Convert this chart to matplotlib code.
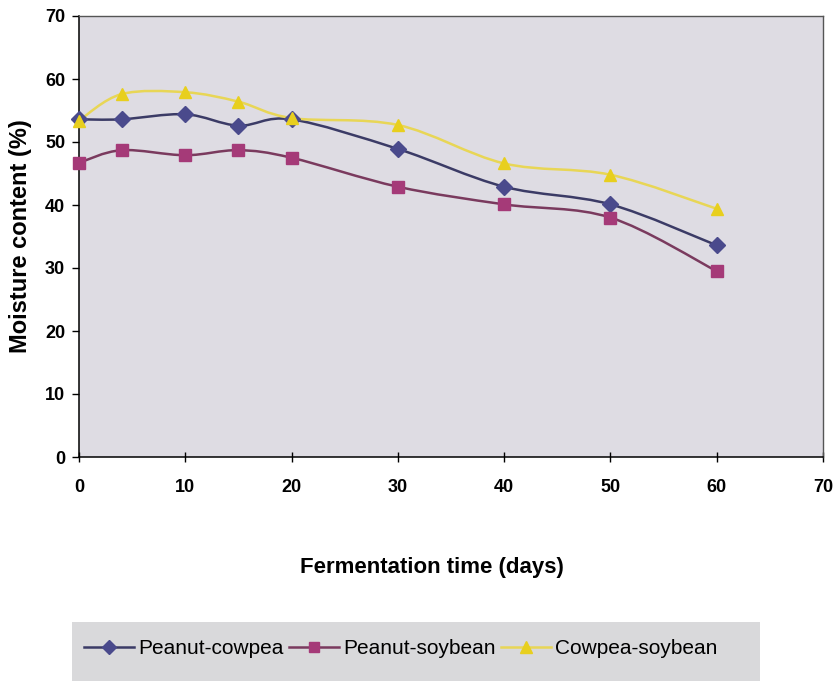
import numpy as np
import matplotlib
matplotlib.use("Agg")
import matplotlib.pyplot as plt
from matplotlib.path import Path
from matplotlib.patches import PathPatch, Rectangle
from matplotlib.lines import Line2D

plt.rcParams["font.family"] = ["Liberation Sans", "DejaVu Sans"]

days = [0, 4, 10, 15, 20, 30, 40, 50, 60]
peanut_cowpea = [53.6, 53.6, 54.4, 52.6, 53.6, 48.9, 42.9, 40.1, 33.6]
peanut_soybean = [46.7, 48.7, 47.9, 48.7, 47.5, 42.9, 40.1, 38.0, 29.5]
cowpea_soybean = [53.4, 57.6, 57.9, 56.4, 53.8, 52.7, 46.6, 44.8, 39.4]

x_ticks = [0, 10, 20, 30, 40, 50, 60, 70]
y_ticks = [0, 10, 20, 30, 40, 50, 60, 70]

series = [
    ("Peanut-cowpea", peanut_cowpea, "#3b3b66", "#4a4a8c", "D", 8),
    ("Peanut-soybean", peanut_soybean, "#7a3a5e", "#a53a78", "s", 8.5),
    ("Cowpea-soybean", cowpea_soybean, "#e8d656", "#e8cf1e", "^", 9),
]


def smooth_path(xs, ys):
    # cubic bezier through every point, catmull-rom style tangents
    pts = np.column_stack([xs, ys]).astype(float)
    verts = [pts[0]]
    codes = [Path.MOVETO]
    n = len(pts)
    for i in range(n - 1):
        p0 = pts[i - 1] if i > 0 else pts[i]
        p1 = pts[i]
        p2 = pts[i + 1]
        p3 = pts[i + 2] if i + 2 < n else pts[i + 1]
        c1 = p1 + (p2 - p0) / 6.0
        c2 = p2 - (p3 - p1) / 6.0
        verts += [c1, c2, p2]
        codes += [Path.CURVE4] * 3
    return Path(verts, codes)


fig = plt.figure(figsize=(8.35, 6.81), dpi=100)
ax = fig.add_axes([79 / 835, 1 - 457 / 681, (823 - 79) / 835, (457 - 16) / 681])
ax.set_facecolor("#dedce3")

for label, vals, lc, mc, mk, ms in series:
    ax.add_patch(PathPatch(smooth_path(days, vals), fill=False,
                           edgecolor=lc, lw=1.8, zorder=3))
    ax.plot(days, vals, ls="none", marker=mk, ms=ms, mfc=mc, mec=mc,
            zorder=4, clip_on=False)

ax.set_xlim(0, 70)
ax.set_ylim(0, 70)
ax.set_xticks(x_ticks)
ax.set_yticks(y_ticks)
ax.tick_params(axis="x", direction="inout", length=7, width=1, pad=12,
               labelsize=13)
ax.tick_params(axis="y", direction="out", length=5, width=1, pad=5,
               labelsize=13)
for t in ax.get_xticklabels() + ax.get_yticklabels():
    t.set_fontweight("bold")

for side in ("left", "bottom"):
    ax.spines[side].set_color("black")
    ax.spines[side].set_linewidth(1.1)
for side in ("top", "right"):
    ax.spines[side].set_color("#555555")
    ax.spines[side].set_linewidth(1.0)

fig.text(432 / 835, 1 - 567 / 681, "Fermentation time (days)", ha="center",
         va="center", fontsize=16, fontweight="bold")
fig.text(21 / 835, 1 - 236 / 681, "Moisture content (%)", ha="center",
         va="center", rotation=90, fontsize=17, fontweight="bold")

# grey legend strip at the bottom
fig.patches.append(Rectangle((72 / 835, 0), (760 - 72) / 835, 59 / 681,
                             transform=fig.transFigure, facecolor="#d9d9db",
                             edgecolor="none", zorder=0))

handles = [Line2D([], [], color=lc, lw=1.8, marker=mk, ms=ms * 0.9,
                  mfc=mc, mec=mc)
           for _, _, lc, mc, mk, ms in series]
fig.legend(handles, [s[0] for s in series], loc="center",
           bbox_to_anchor=(401 / 835, 1 - 649 / 681), ncol=3, frameon=False,
           fontsize=15, handlelength=2.4, handletextpad=0.2,
           columnspacing=0.25)

fig.savefig("out.png", dpi=100)
